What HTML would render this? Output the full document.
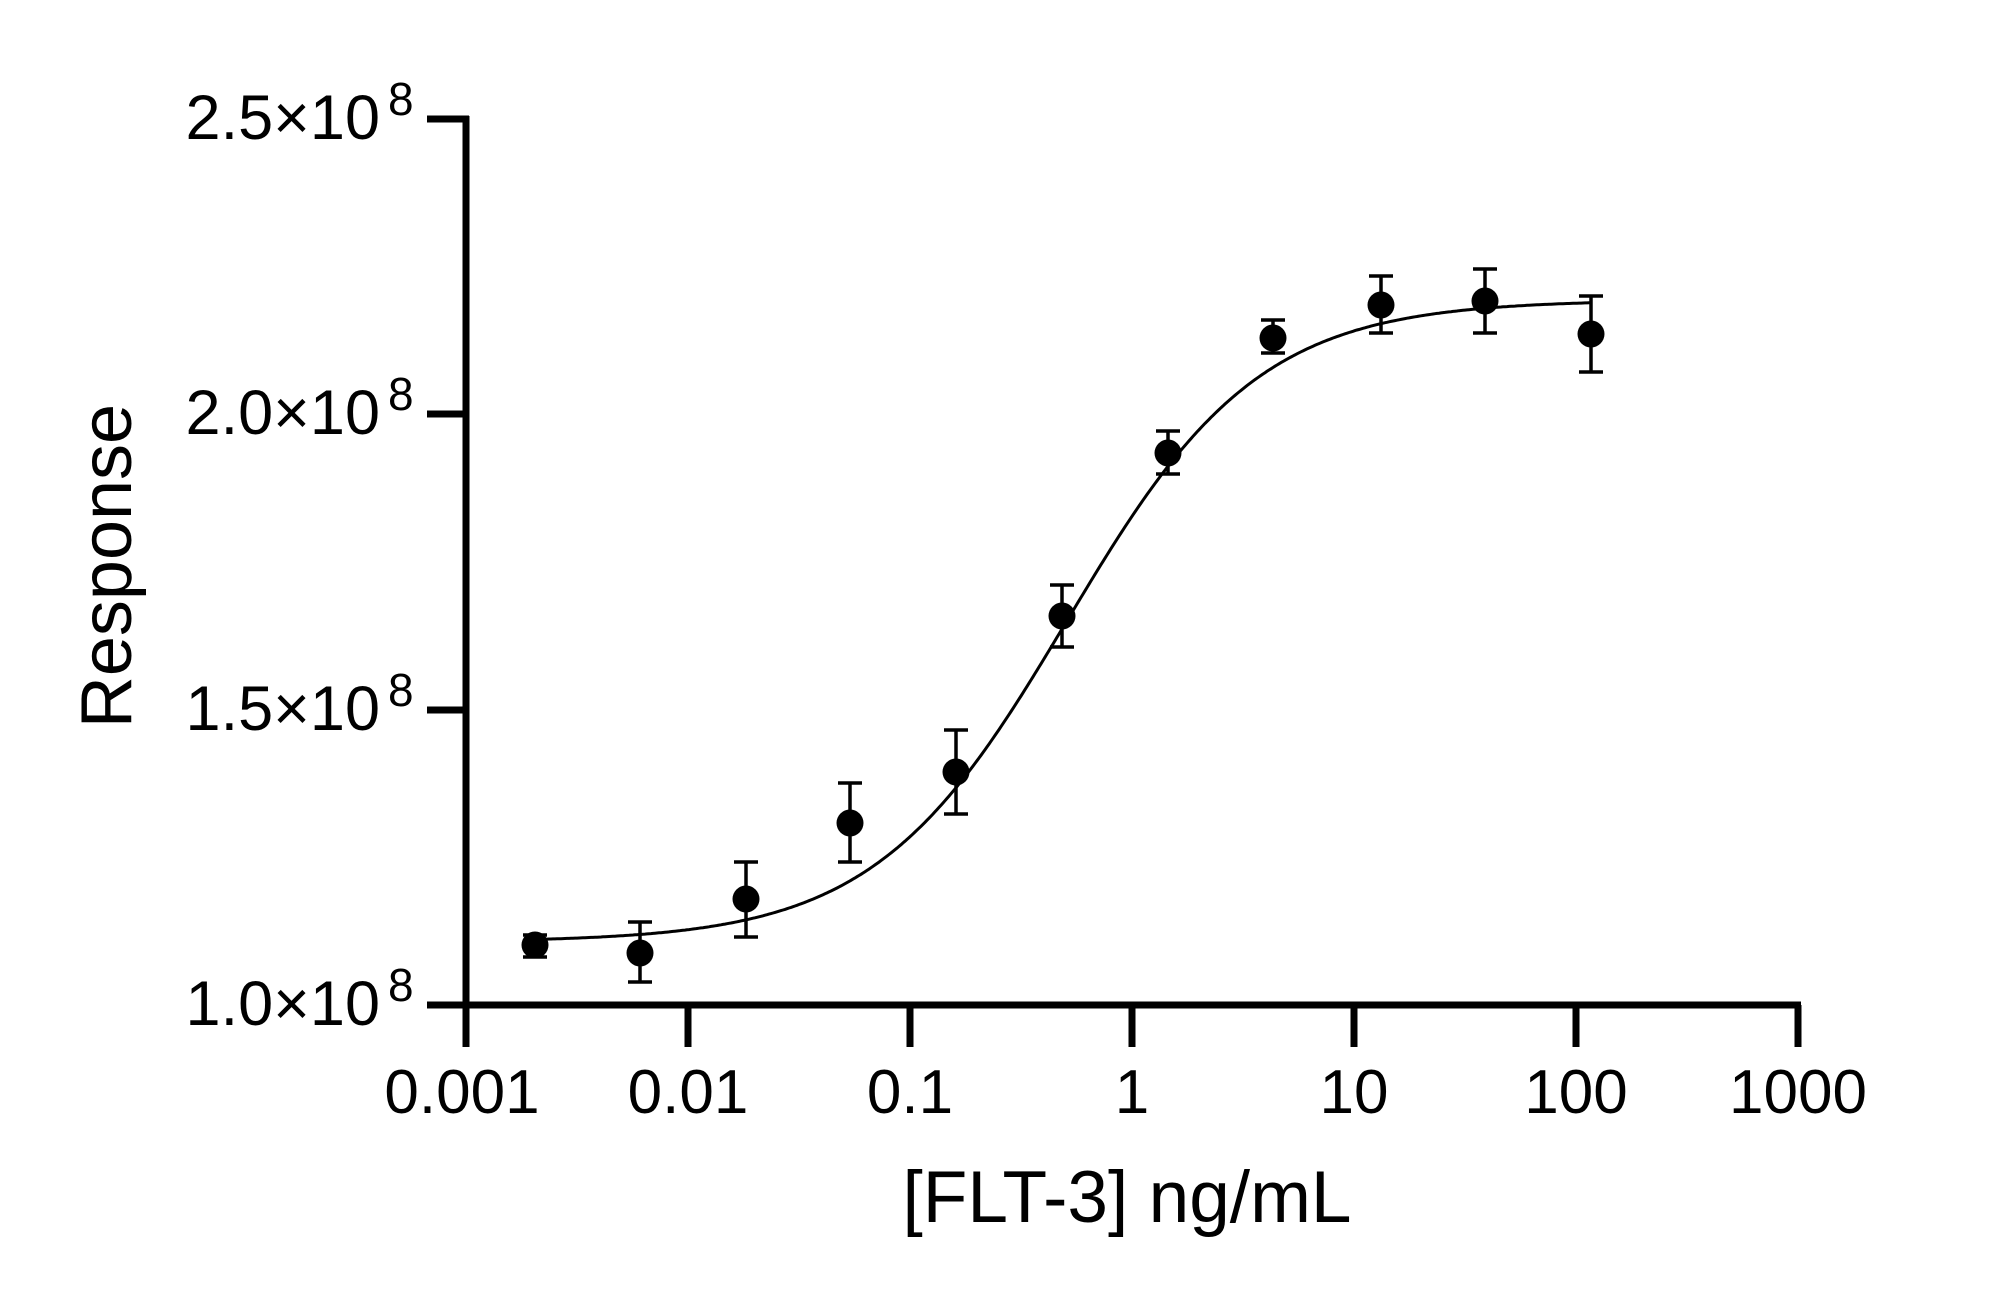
<!DOCTYPE html>
<html><head><meta charset="utf-8"><style>
html,body{margin:0;padding:0;background:#fff;}
svg{display:block;}
text{font-family:"Liberation Sans",Arial,sans-serif;fill:#000;}
</style></head><body>
<svg id="s" width="2000" height="1302" viewBox="0 0 2000 1302" xmlns="http://www.w3.org/2000/svg">
<g stroke="#000" stroke-width="7" fill="none">
<line x1="466" y1="116" x2="466" y2="1008"/>
<line x1="463" y1="1005" x2="1801" y2="1005"/>
<line x1="427" y1="119" x2="469" y2="119"/>
<line x1="427" y1="414" x2="469" y2="414"/>
<line x1="427" y1="710" x2="469" y2="710"/>
<line x1="427" y1="1005" x2="469" y2="1005"/>
<line x1="466" y1="1005" x2="466" y2="1047"/>
<line x1="688" y1="1005" x2="688" y2="1047"/>
<line x1="910" y1="1005" x2="910" y2="1047"/>
<line x1="1132" y1="1005" x2="1132" y2="1047"/>
<line x1="1354" y1="1005" x2="1354" y2="1047"/>
<line x1="1576" y1="1005" x2="1576" y2="1047"/>
<line x1="1798" y1="1005" x2="1798" y2="1047"/>
</g>
<g font-size="63" text-anchor="end">
<text x="380" y="1025">1.0×10</text>
<text x="380" y="730">1.5×10</text>
<text x="380" y="434">2.0×10</text>
<text x="380" y="139">2.5×10</text>
</g>
<g font-size="46">
<text x="388" y="1001">8</text>
<text x="388" y="706">8</text>
<text x="388" y="410">8</text>
<text x="388" y="115">8</text>
</g>
<g font-size="62" text-anchor="middle">
<text x="462" y="1113">0.001</text>
<text x="688" y="1113">0.01</text>
<text x="910" y="1113">0.1</text>
<text x="1132" y="1113">1</text>
<text x="1354" y="1113">10</text>
<text x="1576" y="1113">100</text>
<text x="1798" y="1113">1000</text>
</g>
<text x="1127" y="1222" font-size="73" text-anchor="middle">[FLT-3] ng/mL</text>
<text transform="translate(131,566) rotate(-90)" font-size="72" text-anchor="middle">Response</text>
<path id="curve" d="" stroke="#000" stroke-width="3" fill="none"/>
<g id="pts"></g>
</svg>
<script>
(function(){
 var d="";
 for(var px=535;px<=1591;px+=2){
  var lx=-3+(px-466)/221.7;
  var y=942-642/(1+Math.pow(10,1.0*(-0.29-lx)));
  d+=(px==535?"M":"L")+px+","+y.toFixed(1);
 }
 document.getElementById("curve").setAttribute("d",d);
 var P=[[535,945,935,957],[640,953,922,982],[746,899,862,937],[850,823,783,862],[956,772,730,814],[1062,616,585,647],[1168,453,431,474],[1273,338,320,353],[1381,305,276,333],[1485,301,269,333],[1591,334,296,372]];
 var g=document.getElementById("pts"),h="";
 P.forEach(function(p){
  h+='<g stroke="#000" stroke-width="3.5"><line x1="'+p[0]+'" y1="'+p[2]+'" x2="'+p[0]+'" y2="'+p[3]+'"/><line x1="'+(p[0]-12)+'" y1="'+p[2]+'" x2="'+(p[0]+12)+'" y2="'+p[2]+'"/><line x1="'+(p[0]-12)+'" y1="'+p[3]+'" x2="'+(p[0]+12)+'" y2="'+p[3]+'"/></g>';
  h+='<circle cx="'+p[0]+'" cy="'+p[1]+'" r="13.5" fill="#000"/>';
 });
 g.innerHTML=h;
})();
</script>
</body></html>
